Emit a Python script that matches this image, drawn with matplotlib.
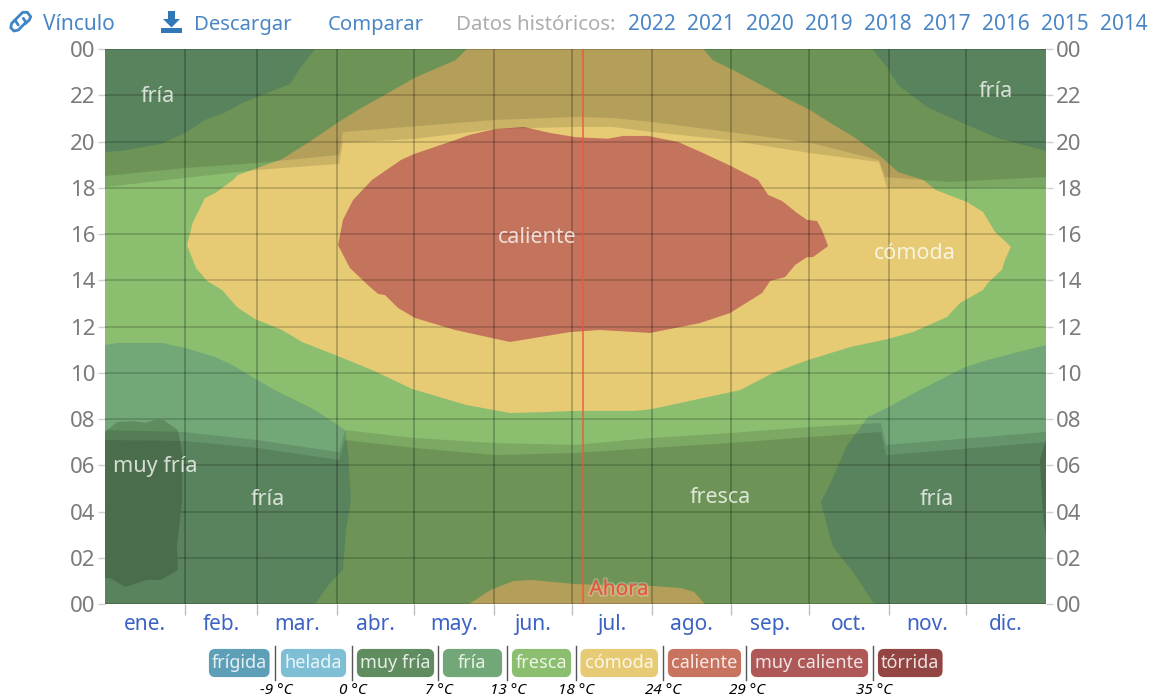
import matplotlib
matplotlib.use("Agg")
import matplotlib.pyplot as plt
import matplotlib.patheffects as pe
from matplotlib.lines import Line2D
from matplotlib.patches import FancyBboxPatch, Polygon, Rectangle

plt.rcParams["font.family"] = ["Noto Sans", "DejaVu Sans"]

W, H = 1150, 698

# x values are day of the year, y values are hour of the day
month_names = ["ene.", "feb.", "mar.", "abr.", "may.", "jun.", "jul.", "ago.", "sep.", "oct.", "nov.", "dic."]
month_days = [31, 28, 31, 30, 31, 30, 31, 31, 30, 31, 30, 31]
hour_labels = ["00", "02", "04", "06", "08", "10", "12", "14", "16", "18", "20", "22", "00"]
now_day = 185.4

comoda_day = [31.8, 34.1, 36.1, 38.8, 42.7, 49.7, 51.6, 59.0, 68.7, 80.3, 90, 100, 107, 120, 136, 140.4, 232, 235.7,
              243.6, 263.4, 273.5, 282, 290.5, 300.2, 307.6, 317.3, 322.3, 334.4, 340.6, 345.2, 349.9, 351.4, 349.1,
              347.9, 342.5, 340.6, 331.7, 326.6, 313.4, 303.7, 289, 272.7, 259.1, 246.3, 212.2, 205.6, 182.3, 171,
              157.1, 140, 119.1, 103.6, 89.2, 76.4, 68.7, 58.2, 51.2, 45.4, 39.6, 35.3]
comoda_hour = [15.52, 16.52, 16.95, 17.56, 17.77, 18.34, 18.55, 18.85, 19.24, 20.06, 20.8, 21.49, 21.92, 22.75, 23.52, 24,
               24, 23.52, 23.09, 21.92, 21.36, 20.76, 20.19, 19.42, 18.68, 18.34, 17.9, 17.38, 16.95, 16.09, 15.61,
               15.44, 14.88, 14.45, 13.89, 13.58, 13.02, 12.41, 11.76, 11.46, 11.11, 10.55, 9.99, 9.25, 8.43, 8.35,
               8.35, 8.3, 8.26, 8.61, 9.3, 10.12, 10.77, 11.33, 11.85, 12.32, 12.84, 13.58, 13.97, 14.53]

comoda_low_day = [141.2, 149.7, 158.3, 165.6, 182.3, 212.2, 223.4, 228.5, 232.7]
comoda_low_hour = [0, 0.61, 0.99, 1.04, 0.86, 0.78, 0.69, 0.52, 0]

caliente_day = [90.4, 92.3, 96.2, 103.6, 114.8, 119.9, 135.8, 141.2, 151.3, 162.5, 172.6, 182.3, 195.1, 200.9, 210.6,
                222.3, 232, 242, 253.3, 257.2, 262.6, 268.4, 272.3, 276.2, 278.1, 280.5, 274.6, 272.3, 267.7, 263.8,
                258, 254.9, 242.4, 230.8, 211.4, 192, 180.4, 157.1, 135.8, 120.2, 113.7, 108.6, 105.9, 102, 95]
caliente_hour = [15.52, 16.61, 17.47, 18.34, 19.2, 19.46, 20.06, 20.28, 20.54, 20.63, 20.37, 20.19, 20.12, 20.24, 20.24,
                 19.98, 19.5, 18.98, 18.34, 17.69, 17.43, 16.91, 16.61, 16.56, 16.17, 15.48, 15.0, 15.0, 14.66, 14.14,
                 13.97, 13.45, 12.58, 12.15, 11.72, 11.85, 11.76, 11.33, 11.85, 12.37, 12.8, 13.36, 13.41, 13.79, 14.53]

fria_tl_day = [0, 6.2, 21.7, 31.8, 38.8, 46.2, 53.1, 71.8, 76, 81.5, 0]
fria_tl_hour = [19.55, 19.59, 19.89, 20.41, 20.93, 21.23, 21.66, 22.49, 23.22, 24, 24]

fria_tr_day = [297.5, 303.3, 307.6, 318.9, 334.4, 346, 365, 365]
fria_tr_hour = [24, 23.22, 22.44, 21.49, 20.71, 20.15, 19.59, 24]

fria_bl_day = [0, 5, 22.1, 31, 42.7, 49.3, 57, 65.9, 81.5, 93.1, 94.3, 95.4, 93.5, 92.3, 87.3, 81.5, 0]
fria_bl_hour = [11.2, 11.29, 11.29, 11.07, 10.68, 10.34, 9.82, 9.25, 8.39, 7.52, 6.53, 4.5, 3.2, 1.47, 0.91, 0, 0]

fria_br_day = [365, 342.1, 332.8, 323.9, 316.1, 303.3, 296, 291.7, 287.4, 282, 277.7, 280.5, 282.4, 290.5, 298.3, 365]
fria_br_hour = [11.2, 10.55, 10.2, 9.69, 9.25, 8.48, 8.09, 7.44, 6.79, 5.36, 4.41, 3.2, 2.46, 1.34, 0, 0]

muy_fria_l_day = [0, 4.7, 10.5, 15.5, 21.7, 28.3, 29.9, 29.9, 27.9, 28.3, 21.7, 16.3, 7.8, 1.9, 0]
muy_fria_l_hour = [7.44, 7.87, 7.91, 7.83, 8.04, 7.52, 6.53, 4.5, 2.46, 1.47, 1.04, 1.04, 0.74, 1.12, 1.12]

muy_fria_r_day = [365, 362.6, 364, 365]
muy_fria_r_hour = [7.09, 6.23, 3.63, 2.98]

# evening and morning edges of the two darker layers (jumps are the clock changes)
dusk_day = [0, 30.6, 59, 90.8, 92.3, 151.3, 182.3, 196.7, 212.2, 242, 273.5, 300.2, 302.6, 327.4, 365]
dusk_hour = [18.51, 18.85, 19.07, 19.42, 20.41, 20.93, 21.06, 21.02, 20.84, 20.41, 19.94, 19.2, 18.46, 18.25, 18.46]
twilight_pm_day = [0, 30.6, 59, 90.8, 92.3, 119.9, 151.3, 182.3, 196.7, 212.2, 242, 273.5, 300.2, 303.3, 365]
twilight_pm_hour = [18.03, 18.42, 18.77, 19.03, 19.94, 20.11, 20.54, 20.63, 20.63, 20.41, 20.06, 19.5, 19.11, 17.99, 18.03]
dawn_day = [0, 30.6, 59, 90.8, 93.1, 119.9, 151.3, 182.3, 212.2, 242, 273.5, 301, 303, 365]
dawn_hour = [7.09, 7.05, 6.75, 6.23, 7.09, 6.75, 6.44, 6.53, 6.75, 6.96, 7.22, 7.44, 6.44, 7.0]
twilight_am_day = [0, 30.6, 59, 90.8, 93.1, 119.9, 151.3, 182.3, 212.2, 242, 273.5, 301, 303, 365]
twilight_am_hour = [7.52, 7.44, 7.09, 6.57, 7.52, 7.18, 6.96, 6.88, 7.18, 7.39, 7.65, 7.83, 6.88, 7.44]

header_links = ["Vínculo", "Descargar", "Comparar"]
header_years = ["2022", "2021", "2020", "2019", "2018", "2017", "2016", "2015", "2014"]

band_names = ["frígida", "helada", "muy fría", "fría", "fresca", "cómoda", "caliente", "muy caliente", "tórrida"]
band_colors = ["#5e9fb8", "#7fbfd6", "#5f8d60", "#72a878", "#8bbe6f", "#e6cb74", "#c7735f", "#ae5858", "#924542"]
band_limits = ["-9 °C", "0 °C", "7 °C", "13 °C", "18 °C", "24 °C", "29 °C", "35 °C"]

C_FRIA = band_colors[3]
C_MUY_FRIA = band_colors[2]
C_FRESCA = band_colors[4]
C_COMODA = band_colors[5]
C_CALIENTE = "#c4735c"
BLUE = "#4a86c5"
MONTH_BLUE = "#3c62c4"
GRAY = "#7b7b7b"


def px(x, y):
    return x / W, 1 - y / H


fig = plt.figure(figsize=(W / 100, H / 100), dpi=100)
ax = fig.add_axes([105 / W, 1 - 604 / H, 941 / W, 555 / H])
ax.set_xlim(0, 365)
ax.set_ylim(0, 24)
ax.set_facecolor(C_FRESCA)
for s in ax.spines.values():
    s.set_visible(False)

# temperature zones
ax.fill(comoda_day, comoda_hour, color=C_COMODA, lw=0, zorder=1)
ax.fill(comoda_low_day, comoda_low_hour, color=C_COMODA, lw=0, zorder=1)
ax.fill(caliente_day, caliente_hour, color=C_CALIENTE, lw=0, zorder=2)
ax.fill(fria_tl_day, fria_tl_hour, color=C_FRIA, lw=0, zorder=2)
ax.fill(fria_tr_day, fria_tr_hour, color=C_FRIA, lw=0, zorder=2)
ax.fill(fria_bl_day, fria_bl_hour, color=C_FRIA, lw=0, zorder=2)
ax.fill(fria_br_day, fria_br_hour, color=C_FRIA, lw=0, zorder=2)
ax.fill(muy_fria_l_day, muy_fria_l_hour, color=C_MUY_FRIA, lw=0, zorder=3)
ax.fill(muy_fria_r_day, muy_fria_r_hour, color=C_MUY_FRIA, lw=0, zorder=3)

# night shading, two layers on top of each other
for xs, ys in [(dusk_day, dusk_hour), (twilight_pm_day, twilight_pm_hour)]:
    ax.fill(xs + [365, 0], ys + [24, 24], color="black", alpha=0.115, lw=0, zorder=4)
for xs, ys in [(dawn_day, dawn_hour), (twilight_am_day, twilight_am_hour)]:
    ax.fill(xs + [365, 0], ys + [0, 0], color="black", alpha=0.115, lw=0, zorder=4)

# month boundaries and hour lines
month_edges = [sum(month_days[:i]) for i in range(1, 12)]
month_mids = [sum(month_days[:i]) + month_days[i] / 2 for i in range(12)]
ax.set_xticks(month_edges)
ax.set_xticklabels([])
ax.set_xticks(month_mids, minor=True)
ax.set_xticklabels(month_names, minor=True, fontsize=15, color=MONTH_BLUE)
ax.tick_params(axis="x", which="major", length=8, width=1, color="#00000040")
ax.tick_params(axis="x", which="minor", length=0, pad=7)
hours = list(range(0, 25, 2))
ax.set_yticks(hours)
ax.set_yticklabels(hour_labels, fontsize=16, color=GRAY)
ax.tick_params(axis="y", length=5, width=1, color="#00000030", pad=2)
ax.grid(True, axis="x", which="major", color="black", alpha=0.24, lw=1.3)
ax.grid(True, axis="y", which="major", color="black", alpha=0.18, lw=1.3)
ax.set_axisbelow(False)
for g in ax.get_xgridlines() + ax.get_ygridlines():
    g.set_zorder(5)

ax_r = ax.twinx()
ax_r.set_ylim(0, 24)
ax_r.set_yticks(hours)
ax_r.set_yticklabels(hour_labels, fontsize=16, color=GRAY)
ax_r.tick_params(axis="y", length=5, width=1, color="#00000030", pad=2)
for s in ax_r.spines.values():
    s.set_visible(False)

# current date
ax.axvline(now_day, color="#ea5a3c", lw=1.2, alpha=0.85, zorder=6)
ax.text(now_day + 2.5, 0.18, "Ahora", color="#e0583e", fontsize=15, ha="left", va="bottom", zorder=7,
        path_effects=[pe.withStroke(linewidth=2.5, foreground="#ffffff40")])

# zone names
zone_labels = [("fría", 20.5, 21.95), ("fría", 345.5, 22.15), ("caliente", 167.5, 15.85), ("cómoda", 314, 15.15),
               ("muy fría", 19.5, 5.95), ("fría", 63, 4.5), ("fresca", 238.5, 4.6), ("fría", 322.5, 4.5)]
for name, d, h in zone_labels:
    ax.text(d, h, name, color="#ffffffc4", fontsize=15.5, ha="center", va="center", zorder=7)

# header row
fig.text(*px(43, 25), header_links[0], color=BLUE, fontsize=15, va="center")
fig.text(*px(194, 25), header_links[1], color=BLUE, fontsize=14.6, va="center")
fig.text(*px(328, 25), header_links[2], color=BLUE, fontsize=14.6, va="center")
fig.text(*px(456, 25), "Datos históricos:", color="#adadad", fontsize=14.7, va="center")
for i, year in enumerate(header_years):
    fig.text(*px(628 + i * 59, 25), year, color=BLUE, fontsize=15, va="center")

# link icon
link_upper = [(18.3, 25), (15, 20), (22.7, 12.3), (27.3, 12.3), (30.7, 16.7), (29.3, 20), (25.3, 23.7)]
link_lower = [(23.3, 18.3), (26, 22.3), (18.3, 30), (14, 31), (10.7, 27.7), (11.7, 23.3), (15, 20)]
for pts in (link_upper, link_lower):
    fig.add_artist(Line2D([p[0] / W for p in pts], [1 - p[1] / H for p in pts], transform=fig.transFigure,
                          color="#3f86c8", lw=2, solid_capstyle="round", solid_joinstyle="round"))
# download icon
fig.add_artist(Polygon([px(168, 11), px(175, 11), px(175, 19), px(180, 19), px(171.5, 27.5), px(163, 19), px(168, 19)],
                       transform=fig.transFigure, fc="#3277b8", ec="none"))
fig.add_artist(Rectangle(px(161, 33), 21 / W, 5 / H, transform=fig.transFigure, fc="#3277b8", ec="none"))

# colour key
box_left = [209, 281, 357, 443, 512, 580.5, 668, 751, 878]
box_right = [269.5, 346, 434, 502, 571, 658, 741, 868, 942.5]
separators = [275, 352, 438, 507, 575.5, 662.5, 746, 872.7]
for name, col, l, r in zip(band_names, band_colors, box_left, box_right):
    fig.add_artist(FancyBboxPatch(px(l + 2, 675), (r - l - 4) / W, 24 / H,
                                  boxstyle="round,pad=0,rounding_size=0.0035",
                                  transform=fig.transFigure, fc=col, ec=col, lw=3, mutation_aspect=W / H))
    fig.text(*px((l + r) / 2, 663), name, color="#ffffffd8", fontsize=13, ha="center", va="center")
for s, lim in zip(separators, band_limits):
    fig.add_artist(Line2D([s / W, s / W], [1 - 646 / H, 1 - 680 / H], transform=fig.transFigure,
                          color="#555555", lw=1))
    fig.text(*px(s + 1, 690), lim, color="black", fontsize=11, style="italic", ha="center", va="center")

fig.savefig("out.png", dpi=100)
